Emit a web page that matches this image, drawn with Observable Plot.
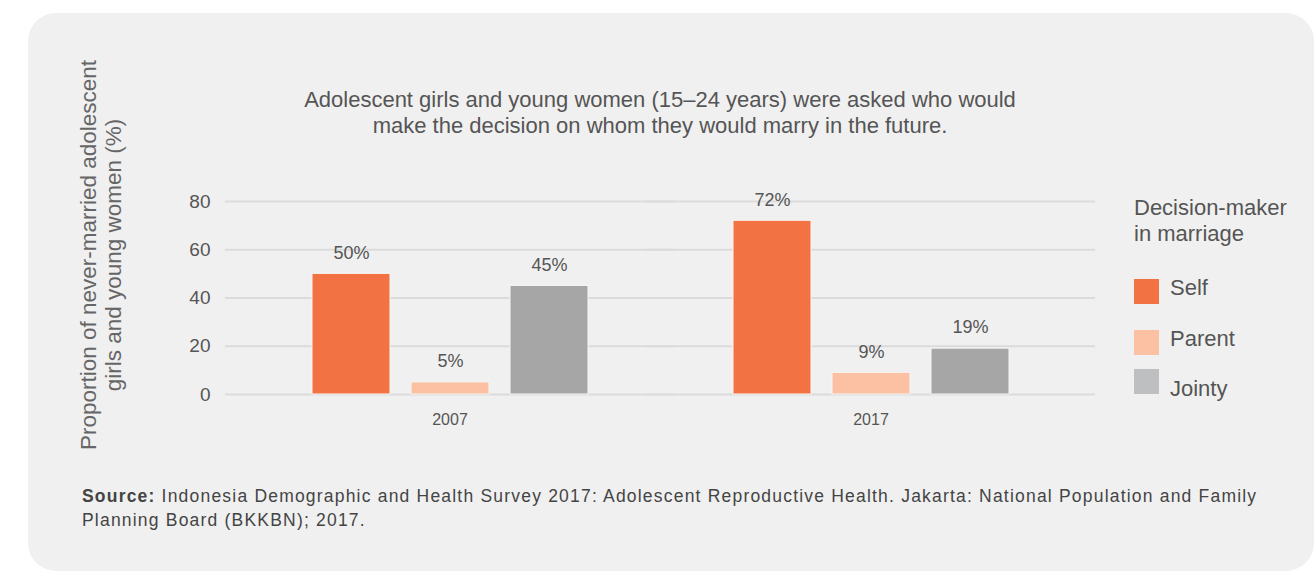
<!DOCTYPE html>
<html>
<head>
<meta charset="utf-8">
<script src="https://cdn.jsdelivr.net/npm/d3@7"></script>
<script src="https://cdn.jsdelivr.net/npm/@observablehq/plot@0.6"></script>
<style>
  html, body { margin: 0; padding: 0; background: #ffffff; }
  #wrap { position: relative; width: 1316px; height: 572px; overflow: hidden; font-family: "Liberation Sans", Arial, sans-serif; color: #555; }
  #panel { position: absolute; left: 28px; top: 13px; width: 1286px; height: 558px; border-radius: 28px; background: #f0f0f0; }
  #title { position: absolute; left: 160px; width: 1000px; top: 87px; text-align: center; font-size: 22px; line-height: 26px; color: #555; }
  #ylabel { position: absolute; left: 101px; top: 255px; width: 460px; transform: translate(-50%, -50%) rotate(-90deg); text-align: center; font-size: 22.5px; line-height: 25px; color: #666; white-space: nowrap; }
  #chart { position: absolute; left: 0; top: 180px; }
  #legend { position: absolute; left: 1134px; top: 195px; color: #555; }
  #legend .ltitle { font-size: 22px; line-height: 26px; white-space: nowrap; }
  #legend .item { position: absolute; left: 0; white-space: nowrap; font-size: 22px; }
  #legend .sw { position: absolute; left: 0; width: 25px; height: 25px; }
  #source { position: absolute; left: 82px; top: 484px; font-family: "Liberation Sans", Arial, sans-serif; font-size: 17.5px; letter-spacing: 1.2px; line-height: 24px; color: #444; white-space: nowrap; }
</style>
</head>
<body>
<div id="wrap">
  <div id="panel"></div>
  <div id="title"></div>
  <div id="ylabel"></div>
  <div id="chart"></div>
  <div id="legend"></div>
  <div id="source"></div>
</div>
<script>
// ---- Data ----
const years = ["2007", "2017"];
const decisionMakers = ["Self", "Parent", "Jointy"];
const selfValues = [50, 72];
const parentValues = [5, 9];
const jointyValues = [45, 19];
const yTicks = [0, 20, 40, 60, 80];
const barColors = ["#f37243", "#fcc0a2", "#a5a6a5"];
const legendColors = ["#f37243", "#fcc0a2", "#bebfc1"];
const titleLines = [
  "Adolescent girls and young women (15\u201324 years) were asked who would",
  "make the decision on whom they would marry in the future."
];
const yLabelLines = ["Proportion of never-married adolescent", "girls and young women (%)"];
const legendTitleLines = ["Decision-maker", "in marriage"];
const sourceBold = "Source:";
const sourceLines = [
  " Indonesia Demographic and Health Survey 2017: Adolescent Reproductive Health. Jakarta: National Population and Family",
  "Planning Board (BKKBN); 2017."
];

// ---- Table for Plot ----
const seriesValues = [selfValues, parentValues, jointyValues];
const rows = [];
years.forEach((yr, i) => {
  decisionMakers.forEach((who, j) => {
    rows.push({ year: yr, who: who, value: seriesValues[j][i] });
  });
});

// ---- Texts ----
document.getElementById("title").innerHTML = titleLines.join("<br>");
document.getElementById("ylabel").innerHTML = yLabelLines.join("<br>");
document.getElementById("source").innerHTML = "<b>" + sourceBold + "</b>" + sourceLines[0] + "<br>" + sourceLines[1];

// legend
const legend = document.getElementById("legend");
legend.innerHTML = '<div class="ltitle">' + legendTitleLines.join("<br>") + '</div>';
const swatchTops = [84, 135, 174];
const labelTops = [80, 131, 181];
decisionMakers.forEach((who, i) => {
  const sw = document.createElement("div");
  sw.className = "sw";
  sw.style.background = legendColors[i];
  sw.style.top = swatchTops[i] + "px";
  legend.appendChild(sw);
  const lab = document.createElement("div");
  lab.className = "item";
  lab.style.top = labelTops[i] + "px";
  lab.style.left = "36px";
  lab.textContent = who;
  legend.appendChild(lab);
});

// ---- Chart ----
const svg = Plot.plot({
  width: 1316,
  height: 260,
  marginLeft: 225,
  marginRight: 221,
  marginTop: 21,
  marginBottom: 46,
  style: { background: "transparent", fontFamily: "'Liberation Sans', Arial, sans-serif", color: "#555", overflow: "visible" },
  fx: { domain: years, paddingInner: 0, paddingOuter: 0.033, axis: null, label: null },
  x: { domain: decisionMakers, paddingInner: 0.216, paddingOuter: 0.7235, axis: null },
  y: { domain: [0, 80], axis: null },
  color: { domain: decisionMakers, range: barColors },
  marks: [
    Plot.ruleY(yTicks, { stroke: "#dbdbdb", strokeWidth: 2, insetLeft: -14, insetRight: -14 }),
    Plot.axisY({ ticks: yTicks, tickSize: 0, tickPadding: 29, fontSize: 19, label: null }),
    Plot.axisFx({ anchor: "bottom", tickSize: 0, tickPadding: 19, fontSize: 16, label: null }),
    Plot.barY(rows, { fx: "year", x: "who", y: "value", fill: "who", stroke: "#f6f6f6", strokeWidth: 1 }),
    Plot.text(rows, { fx: "year", x: "who", y: "value", text: d => d.value + "%", dy: -21, fontSize: 18, fill: "#555" })
  ]
});
document.getElementById("chart").appendChild(svg);
</script>
</body>
</html>
